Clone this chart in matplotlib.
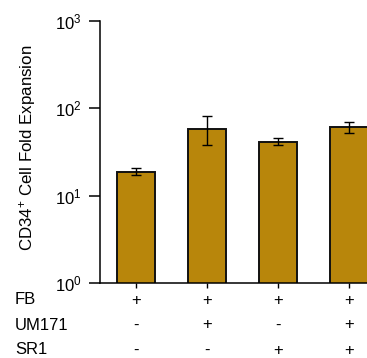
import matplotlib
matplotlib.use("Agg")
import matplotlib.pyplot as plt
import matplotlib.transforms as mtransforms
import numpy as np

plt.rcParams['font.family'] = ['Liberation Sans', 'DejaVu Sans']
plt.rcParams['mathtext.fontset'] = 'custom'
plt.rcParams['mathtext.rm'] = 'Liberation Sans'
plt.rcParams['mathtext.it'] = 'Liberation Sans:italic'
plt.rcParams['mathtext.bf'] = 'Liberation Sans:bold'

conditions = ["A", "B", "C", "D"]
values = [18.7, 58.6, 41.6, 60.6]
err_low = [17.1, 37.8, 37.8, 52.2]
err_high = [21.0, 81.0, 46.3, 69.7]
row_labels = ["FB", "UM171", "SR1"]
row_signs = [["+", "+", "+", "+"],
             ["-", "+", "-", "+"],
             ["-", "-", "+", "+"]]
ytick_vals = [1, 10, 100, 1000]

W, H = 367, 358
fig = plt.figure(figsize=(W / 100, H / 100), dpi=100)
ax = fig.add_axes([100 / W, 1 - 283 / H, 1 - 100 / W, (283 - 21) / H])

x = np.arange(len(values))
vals = np.array(values)
yerr = np.array([vals - np.array(err_low), np.array(err_high) - vals])
ax.bar(x, vals, width=0.54, color="#B8860B", edgecolor="#111111", linewidth=1.4, zorder=2)
ax.errorbar(x, vals, yerr=yerr, fmt="none", ecolor="black", elinewidth=1.0,
            capsize=3.6, capthick=1.0, zorder=3)

ax.set_yscale("log")
ax.set_ylim(1, 1000)
ax.set_xlim(-0.51, 3.25)
ax.set_yticks(ytick_vals)
ax.yaxis.set_minor_locator(matplotlib.ticker.NullLocator())
ax.set_xticks(x)
ax.set_xticklabels([])
for s in ["top", "right"]:
    ax.spines[s].set_visible(False)
for s in ["left", "bottom"]:
    ax.spines[s].set_linewidth(1.1)
ax.tick_params(axis="y", length=8, width=1.1, pad=5, labelsize=12)
ax.tick_params(axis="x", length=3.6, width=1.0, direction="out")

ax.set_ylabel("CD34$^{+}$ Cell Fold Expansion", fontsize=12.2)
ax.yaxis.set_label_coords(38 / W, 1 - 147.5 / H, transform=fig.transFigure)

trans = mtransforms.blended_transform_factory(ax.transData, fig.transFigure)
row_y = [300, 325, 350]
for lbl, signs, yp in zip(row_labels, row_signs, row_y):
    fy = 1 - yp / H
    fig.text(15 / W, fy, lbl, ha="left", va="center", fontsize=12)
    for xi, sg in zip(x, signs):
        ax.text(xi, fy, sg, transform=trans, ha="center", va="center",
                fontsize=12, clip_on=False)

fig.savefig("out.png", dpi=100)
